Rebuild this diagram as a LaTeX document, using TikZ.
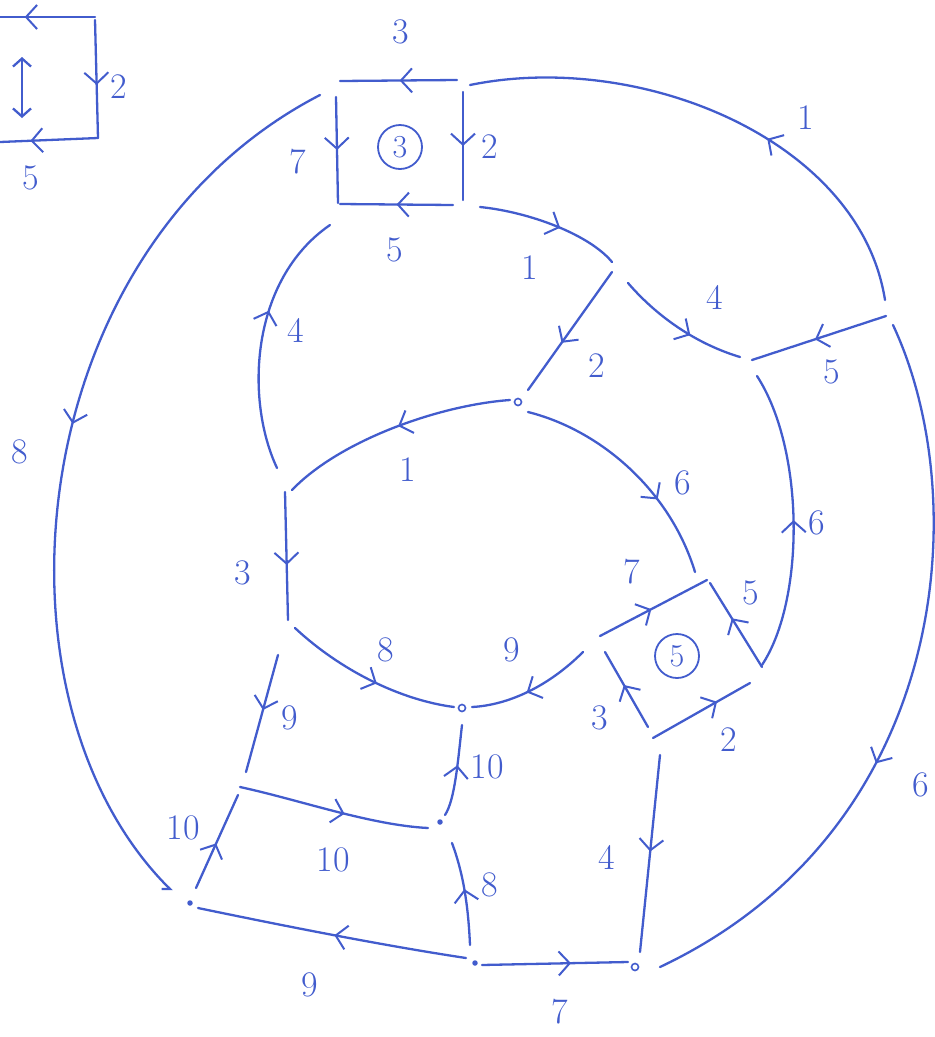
\documentclass[tikz,border=0pt]{standalone}
\usetikzlibrary{arrows.meta,decorations.markings}
\definecolor{ink}{RGB}{66,92,205}
\tikzset{
  edge/.style={draw=ink,line width=2.3pt,line cap=round},
  ar/.style={postaction={decorate},decoration={markings,mark=at position #1 with {\arrow[ink,line width=2pt]{Straight Barb[length=11pt,width=24pt]}}}},
  lab/.style={text=ink,font=\fontsize{36}{40}\selectfont,inner sep=0pt},
  circ/.style={draw=ink,line width=1.8pt,circle,minimum size=44pt,inner sep=0pt,text=ink,font=\fontsize{32}{36}\selectfont},
  vring/.style={draw=ink,line width=1.6pt,circle,minimum size=7pt,inner sep=0pt},
  vdot/.style={fill=ink,circle,minimum size=5.5pt,inner sep=0pt}
}
\begin{document}
\begin{tikzpicture}[x=1pt,y=-1pt]
\useasboundingbox (0,0) rectangle (935,1037);
\clip (0,0) rectangle (935,1037);
% ---------- vertices (nodes)
\node[vring] (H) at (518,402) {};
\node[vring] (O) at (462,708) {};
\node[vring] (T) at (635,967) {};
\node[vdot] (Q) at (440,822) {};
\node[vdot] (R) at (190,903) {};
\node[vdot] (S) at (475,963) {};
\node[circ] (c3) at (400,147) {3};
\node[circ] (c5) at (677,656) {5};
% ---------- connector end points
\coordinate (tl1) at (95,17);   \coordinate (tl0) at (0,17);
\coordinate (tl2) at (95,20);   \coordinate (tl3) at (98,138);
\coordinate (tl4) at (98,138);  \coordinate (tl5) at (0,142);
\coordinate (tl6) at (22,57);   \coordinate (tl7) at (22,118);
\coordinate (b3tr) at (457,80); \coordinate (b3tl) at (340,81);
\coordinate (b3lt) at (336,97); \coordinate (b3lb) at (338,203);
\coordinate (b3rt) at (463,92); \coordinate (b3rb) at (463,200);
\coordinate (b3br) at (453,205);\coordinate (b3bl) at (340,204);
\coordinate (g1) at (885,300);  \coordinate (b1) at (470,85);
\coordinate (a8) at (320,95);   \coordinate (r8) at (172,891);
\coordinate (g6) at (893,325);  \coordinate (t6) at (660,967);
\coordinate (c1) at (480,207);  \coordinate (e1) at (612,262);
\coordinate (e2) at (612,272);  \coordinate (h2) at (528,390);
\coordinate (e4) at (628,283);  \coordinate (f4) at (740,357);
\coordinate (g5) at (886,316);  \coordinate (f5) at (752,360);
\coordinate (m6) at (762,665);  \coordinate (f6) at (757,376);
\coordinate (h1) at (510,400);  \coordinate (i1) at (292,490);
\coordinate (h6) at (528,412);  \coordinate (l6) at (695,572);
\coordinate (i4) at (277,468);  \coordinate (d4) at (330,225);
\coordinate (i3) at (285,492);  \coordinate (j3) at (288,620);
\coordinate (j8) at (295,628);  \coordinate (o8) at (454,707);
\coordinate (k9) at (583,652);  \coordinate (o9) at (472,707);
\coordinate (k5) at (600,636);  \coordinate (l5) at (707,580);
\coordinate (m5) at (762,667);  \coordinate (l5r) at (710,583);
\coordinate (n5) at (653,738);  \coordinate (m5b) at (750,683);
\coordinate (n5l) at (648,727); \coordinate (k5l) at (605,652);
\coordinate (n4) at (660,755);  \coordinate (t4) at (640,952);
\coordinate (s7) at (482,965);  \coordinate (t7) at (628,962);
\coordinate (s9) at (466,958);  \coordinate (r9) at (198,908);
\coordinate (s8) at (470,945);  \coordinate (q8) at (452,843);
\coordinate (q10) at (445,815); \coordinate (o10) at (462,725);
\coordinate (p10) at (240,787); \coordinate (q10m) at (428,828);
\coordinate (r10) at (196,888); \coordinate (p10l) at (238,795);
\coordinate (j9) at (278,655);  \coordinate (p9) at (246,772);
% ---------- top-left partial box
\draw[edge,ar=0.74] (tl1) -- (tl0);
\draw[edge,ar=0.55] (tl2) -- (tl3);
\draw[edge,ar=0.69] (tl4) -- (tl5);
\draw[edge,{Straight Barb[length=8pt,width=18pt]}-{Straight Barb[length=8pt,width=18pt]}] (tl6) -- (tl7);
% ---------- box 3
\draw[edge,ar=0.49] (b3tr) -- (b3tl);
\draw[edge,ar=0.5] (b3lt) -- (b3lb);
\draw[edge,ar=0.5] (b3rt) -- (b3rb);
\draw[edge,ar=0.5] (b3br) -- (b3bl);
% ---------- outer arcs
\draw[edge,ar=0.40] (g1) .. controls (860,140) and (640,50) .. (b1);
\draw[edge,ar=0.46,-{Straight Barb[harpoon,swap,length=6pt,width=12pt]}] (a8) .. controls (20,250) and (-20,700) .. (r8);
\draw[edge,ar=0.6] (g6) .. controls (975,500) and (950,830) .. (t6);
% ---------- inner
\draw[edge,ar=0.57] (c1) .. controls (530,212) and (590,235) .. (e1);
\draw[edge,ar=0.6] (e2) -- (h2);
\draw[edge,ar=0.6] (e4) .. controls (660,320) and (700,345) .. (f4);
\draw[edge,ar=0.53] (g5) -- (f5);
\draw[edge,ar=0.5] (m6) .. controls (805,600) and (805,450) .. (f6);
\draw[edge,ar=0.48] (h1) .. controls (440,405) and (340,440) .. (i1);
\draw[edge,ar=0.66] (h6) .. controls (600,430) and (670,490) .. (l6);
\draw[edge,ar=0.6] (i4) .. controls (245,400) and (250,280) .. (d4);
\draw[edge,ar=0.57] (i3) -- (j3);
\draw[edge,ar=0.55] (j8) .. controls (340,670) and (400,700) .. (o8);
\draw[edge,ar=0.55] (k9) .. controls (550,685) and (510,705) .. (o9);
% ---------- box 5
\draw[edge,ar=0.48] (k5) -- (l5);
\draw[edge,ar=0.58] (m5) -- (l5r);
\draw[edge,ar=0.66] (n5) -- (m5b);
\draw[edge,ar=0.56] (n5l) -- (k5l);
% ---------- lower part
\draw[edge,ar=0.49] (n4) -- (t4);
\draw[edge,ar=0.61] (s7) -- (t7);
\draw[edge,ar=0.49] (s9) .. controls (380,945) and (280,925) .. (r9);
\draw[edge,ar=0.54] (s8) .. controls (468,900) and (462,870) .. (q8);
\draw[edge,ar=0.56] (q10) .. controls (455,800) and (458,760) .. (o10);
\draw[edge,ar=0.56] (p10) .. controls (300,800) and (370,825) .. (q10m);
\draw[edge,ar=0.48] (r10) -- (p10l);
\draw[edge,ar=0.47] (j9) -- (p9);
% ---------- labels
\node[lab] (L0) at (28,-14) {3};
\node[lab] (L1) at (119,87) {2};
\node[lab] (L2) at (31,178) {5};
\node[lab] (L3) at (401,32) {3};
\node[lab] (L4) at (298,162) {7};
\node[lab] (L5) at (490,147) {2};
\node[lab] (L6) at (395,250) {5};
\node[lab] (L7) at (806,118) {1};
\node[lab] (L8) at (20,452) {8};
\node[lab] (L9) at (921,785) {6};
\node[lab] (L10) at (530,268) {1};
\node[lab] (L11) at (597,366) {2};
\node[lab] (L12) at (715,297) {4};
\node[lab] (L13) at (832,372) {5};
\node[lab] (L14) at (817,523) {6};
\node[lab] (L15) at (408,470) {1};
\node[lab] (L16) at (683,483) {6};
\node[lab] (L17) at (296,330) {4};
\node[lab] (L18) at (243,573) {3};
\node[lab] (L19) at (386,650) {8};
\node[lab] (L20) at (512,650) {9};
\node[lab] (L21) at (632,572) {7};
\node[lab] (L22) at (751,593) {5};
\node[lab] (L23) at (729,740) {2};
\node[lab] (L24) at (600,718) {3};
\node[lab] (L25) at (607,857) {4};
\node[lab] (L26) at (560,1012) {7};
\node[lab] (L27) at (310,985) {9};
\node[lab] (L28) at (490,885) {8};
\node[lab] (L29) at (487,767) {10};
\node[lab] (L30) at (333,860) {10};
\node[lab] (L31) at (183,828) {10};
\node[lab] (L32) at (290,718) {9};
\end{tikzpicture}
\end{document}
